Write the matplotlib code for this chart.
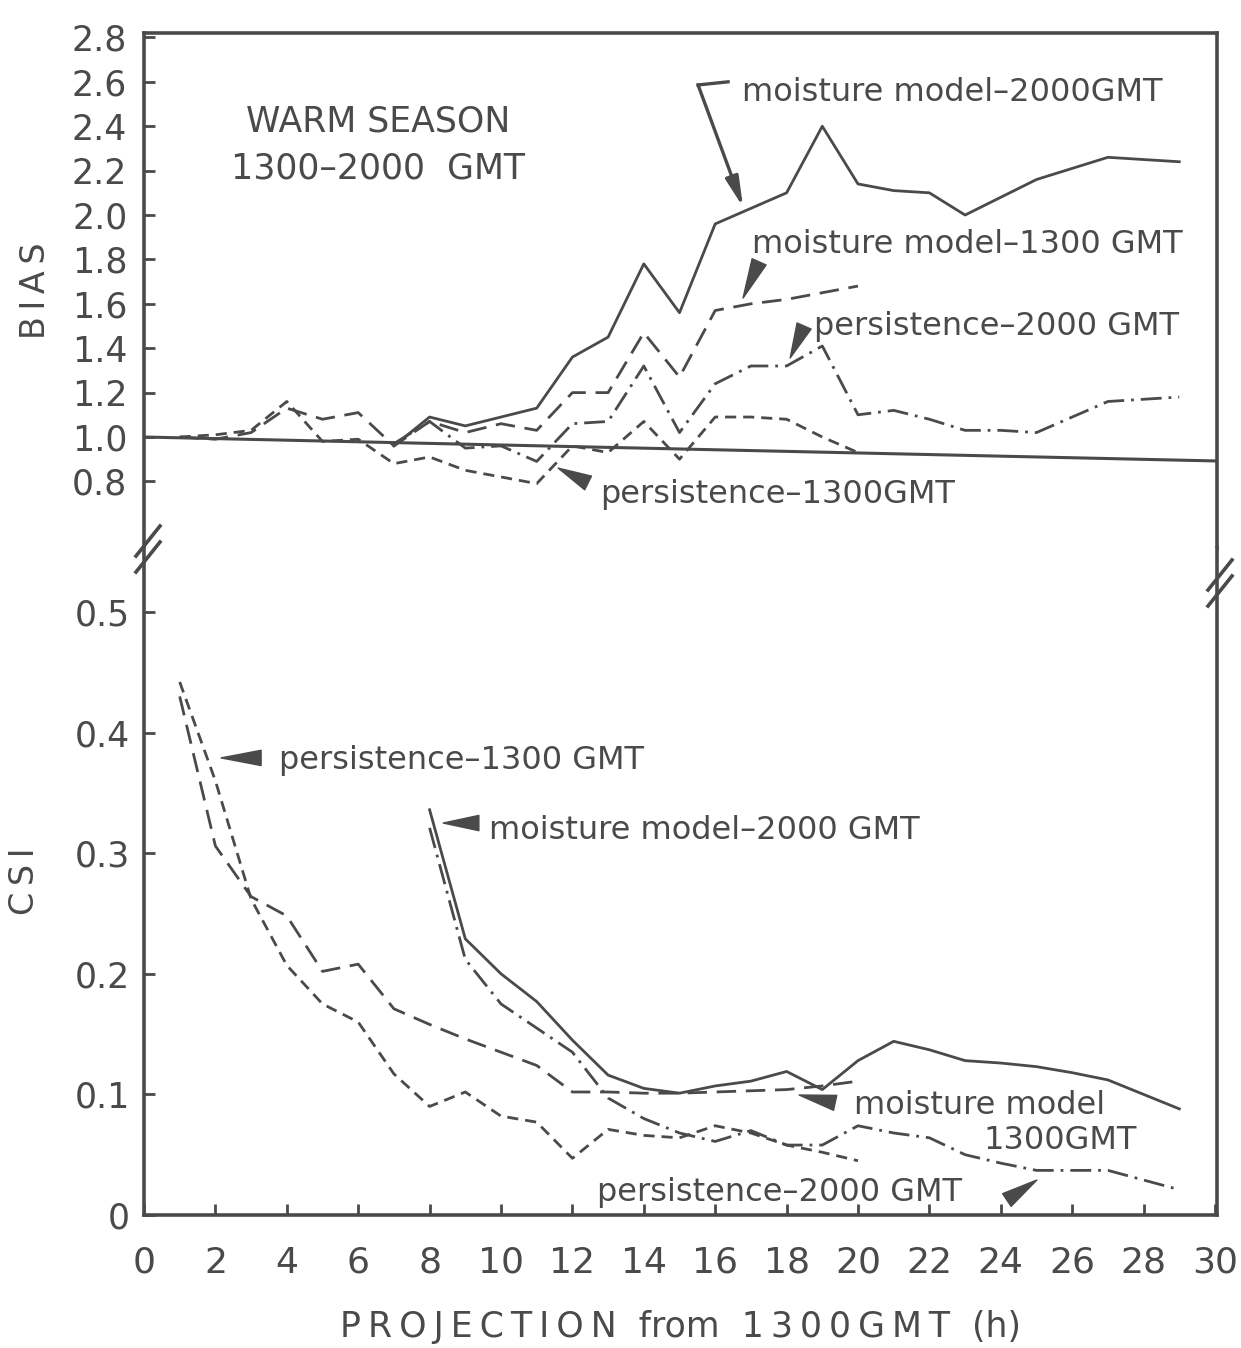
import matplotlib
matplotlib.use("Agg")
import matplotlib.pyplot as plt
from matplotlib.lines import Line2D

# forecast hours for the 1300 GMT and 2000 GMT runs
hours_1300 = list(range(1, 21))
hours_2000_bias = list(range(7, 30))
hours_2000_csi = list(range(8, 30))

# BIAS
bias_moist_2000 = [0.96, 1.09, 1.05, 1.09, 1.13, 1.36, 1.45, 1.78, 1.56, 1.96, 2.03, 2.10,
                   2.40, 2.14, 2.11, 2.10, 2.00, 2.08, 2.16, 2.21, 2.26, 2.25, 2.24]
bias_moist_1300 = [1.00, 0.99, 1.02, 1.13, 1.08, 1.11, 0.96, 1.07, 1.02, 1.06, 1.03, 1.20,
                   1.20, 1.47, 1.27, 1.57, 1.60, 1.62, 1.65, 1.68]
bias_pers_2000 = [0.97, 1.07, 0.95, 0.96, 0.89, 1.06, 1.07, 1.32, 1.02, 1.24, 1.32, 1.32,
                  1.41, 1.10, 1.12, 1.08, 1.03, 1.03, 1.02, 1.09, 1.16, 1.17, 1.18]
bias_pers_1300 = [1.00, 1.01, 1.03, 1.16, 0.98, 0.99, 0.88, 0.91, 0.85, 0.82, 0.79, 0.96,
                  0.93, 1.07, 0.90, 1.09, 1.09, 1.08, 1.00, 0.93]

# CSI
csi_moist_2000 = [0.336, 0.229, 0.200, 0.177, 0.145, 0.116, 0.105, 0.101, 0.107, 0.111, 0.119,
                  0.104, 0.128, 0.144, 0.137, 0.128, 0.126, 0.123, 0.118, 0.112, 0.100, 0.088]
csi_pers_2000 = [0.321, 0.212, 0.175, 0.155, 0.135, 0.097, 0.080, 0.068, 0.061, 0.070, 0.058,
                 0.058, 0.074, 0.068, 0.064, 0.050, 0.043, 0.037, 0.037, 0.037, 0.029, 0.021]
csi_moist_1300 = [0.430, 0.306, 0.264, 0.248, 0.202, 0.208, 0.171, 0.158, 0.146, 0.135, 0.124,
                  0.102, 0.102, 0.101, 0.101, 0.102, 0.103, 0.104, 0.107, 0.111]
csi_pers_1300 = [0.442, 0.360, 0.262, 0.207, 0.175, 0.160, 0.117, 0.090, 0.102, 0.082, 0.077,
                 0.047, 0.071, 0.066, 0.064, 0.074, 0.068, 0.058, 0.052, 0.045]

xticks = list(range(0, 31, 2))
bias_ticks = [0.8, 1.0, 1.2, 1.4, 1.6, 1.8, 2.0, 2.2, 2.4, 2.6, 2.8]
csi_ticks = [0, 0.1, 0.2, 0.3, 0.4, 0.5]

ink = "#4a4a4a"
lw = 2.0
matplotlib.rcParams["lines.scale_dashes"] = False
matplotlib.rcParams["font.family"] = "DejaVu Sans"

styles = {
    "solid": "-",
    "long": (0, (14, 7)),
    "short": (0, (8, 5)),
    "dashdot": (0, (15, 5, 2, 5)),
}


def spaced(s):
    # loose letter spacing with thin spaces
    return "\u2009".join(s)


W, H = 1241, 1348
fig = plt.figure(figsize=(W / 100, H / 100), dpi=100)


def fx(px):
    return px / W


def fy(py):
    return 1 - py / H


left, right = 144, 1217
ax1 = fig.add_axes([fx(left), fy(548), fx(right) - fx(left), fy(33) - fy(548)])
ax2 = fig.add_axes([fx(left), fy(1215), fx(right) - fx(left), fy(548) - fy(1215)])

xmax = (right - left) / 35.7
for ax in (ax1, ax2):
    ax.set_xlim(0, xmax)
    for s in ax.spines.values():
        s.set_color(ink)
        s.set_linewidth(2.6)
    ax.tick_params(direction="in", colors=ink, width=2, length=8, labelsize=25)

ax1.set_ylim(0.50, 2.82)
ax2.set_ylim(0, (1215 - 548) / 1206)

# BIAS panel
ax1.plot(hours_2000_bias, bias_moist_2000, color=ink, lw=lw, ls=styles["solid"])
ax1.plot(hours_1300, bias_moist_1300, color=ink, lw=lw, ls=styles["long"])
ax1.plot(hours_2000_bias, bias_pers_2000, color=ink, lw=lw, ls=styles["dashdot"])
ax1.plot(hours_1300, bias_pers_1300, color=ink, lw=lw, ls=styles["short"])
ax1.plot([0, xmax], [1.0, 0.892], color=ink, lw=2.2)

ax1.spines["bottom"].set_visible(False)
ax1.set_xticks([])
ax1.set_yticks(bias_ticks)
ax1.set_yticklabels([f"{t:.1f}" for t in bias_ticks])
ax1.tick_params(axis="y", pad=12)
ax1.set_ylabel(spaced("BIAS"), color=ink, fontsize=24, labelpad=14)

# CSI panel
ax2.plot(hours_2000_csi, csi_moist_2000, color=ink, lw=lw, ls=styles["solid"])
ax2.plot(hours_1300, csi_moist_1300, color=ink, lw=lw, ls=styles["long"])
ax2.plot(hours_2000_csi, csi_pers_2000, color=ink, lw=lw, ls=styles["dashdot"])
ax2.plot(hours_1300, csi_pers_1300, color=ink, lw=lw, ls=styles["short"])

ax2.spines["top"].set_visible(False)
ax2.set_yticks(csi_ticks)
ax2.set_yticklabels(["0", "0.1", "0.2", "0.3", "0.4", "0.5"])
ax2.tick_params(axis="y", pad=10)
ax2.set_xticks(xticks)
ax2.set_xticklabels([str(t) for t in xticks])
ax2.tick_params(axis="x", pad=22, labelsize=26)
ax2.set_ylabel(spaced("CSI"), color=ink, fontsize=24, labelpad=24)
ax2.set_xlabel(spaced("PROJECTION") + "  from  " + spaced("1300GMT") + "  (h)",
               color=ink, fontsize=25, labelpad=22)

# axis break marks
for x0, y0 in [(136, 556), (136, 572), (1208, 590), (1208, 606)]:
    fig.add_artist(Line2D([fx(x0), fx(x0 + 24)], [fy(y0), fy(y0 - 30)],
                          color=ink, lw=2.6, transform=fig.transFigure))

txt = dict(color=ink, fontsize=23, va="center")
wedge = dict(arrowstyle="wedge,tail_width=1.1,shrink_factor=0.5", color=ink,
             shrinkA=0, shrinkB=0)

# BIAS annotations
ax1.text(6.55, 2.42, "WARM SEASON", ha="center", color=ink, fontsize=25, va="center")
ax1.text(6.55, 2.21, "1300\u20132000  GMT", ha="center", color=ink, fontsize=25, va="center")

ax1.text(16.75, 2.55, "moisture model\u20132000GMT", ha="left", **txt)
ax1.plot([16.36, 15.52], [2.60, 2.586], color=ink, lw=2.4)
ax1.annotate("", xy=(16.78, 2.036), xytext=(15.52, 2.586),
             arrowprops=dict(arrowstyle="-|>,head_length=1.8,head_width=0.4",
                             color=ink, lw=2.4, shrinkA=0, shrinkB=0))

ax1.text(17.03, 1.865, "moisture model\u20131300 GMT", ha="left", **txt)
ax1.annotate("", xy=(16.78, 1.626), xytext=(17.23, 1.789), arrowprops=wedge)

ax1.text(18.77, 1.496, "persistence\u20132000 GMT", ha="left", **txt)
ax1.annotate("", xy=(18.10, 1.356), xytext=(18.49, 1.50), arrowprops=wedge)

ax1.text(12.77, 0.739, "persistence\u20131300GMT", ha="left", **txt)
ax1.annotate("", xy=(11.60, 0.86), xytext=(12.44, 0.793), arrowprops=wedge)

# CSI annotations
ax2.text(3.78, 0.377, "persistence\u20131300 GMT", ha="left", **txt)
ax2.annotate("", xy=(2.16, 0.379), xytext=(3.28, 0.379), arrowprops=wedge)

ax2.text(9.66, 0.319, "moisture model\u20132000 GMT", ha="left", **txt)
ax2.annotate("", xy=(8.38, 0.325), xytext=(9.38, 0.325), arrowprops=wedge)

ax2.text(19.9, 0.091, "moisture model", ha="left", **txt)
ax2.text(27.8, 0.062, "1300GMT", ha="right", **txt)
ax2.annotate("", xy=(18.35, 0.0995), xytext=(19.36, 0.093), arrowprops=wedge)

ax2.text(12.69, 0.019, "persistence\u20132000 GMT", ha="left", **txt)
ax2.annotate("", xy=(25.01, 0.029), xytext=(24.17, 0.0124), arrowprops=wedge)

fig.savefig("out.png", dpi=100, facecolor="white")
